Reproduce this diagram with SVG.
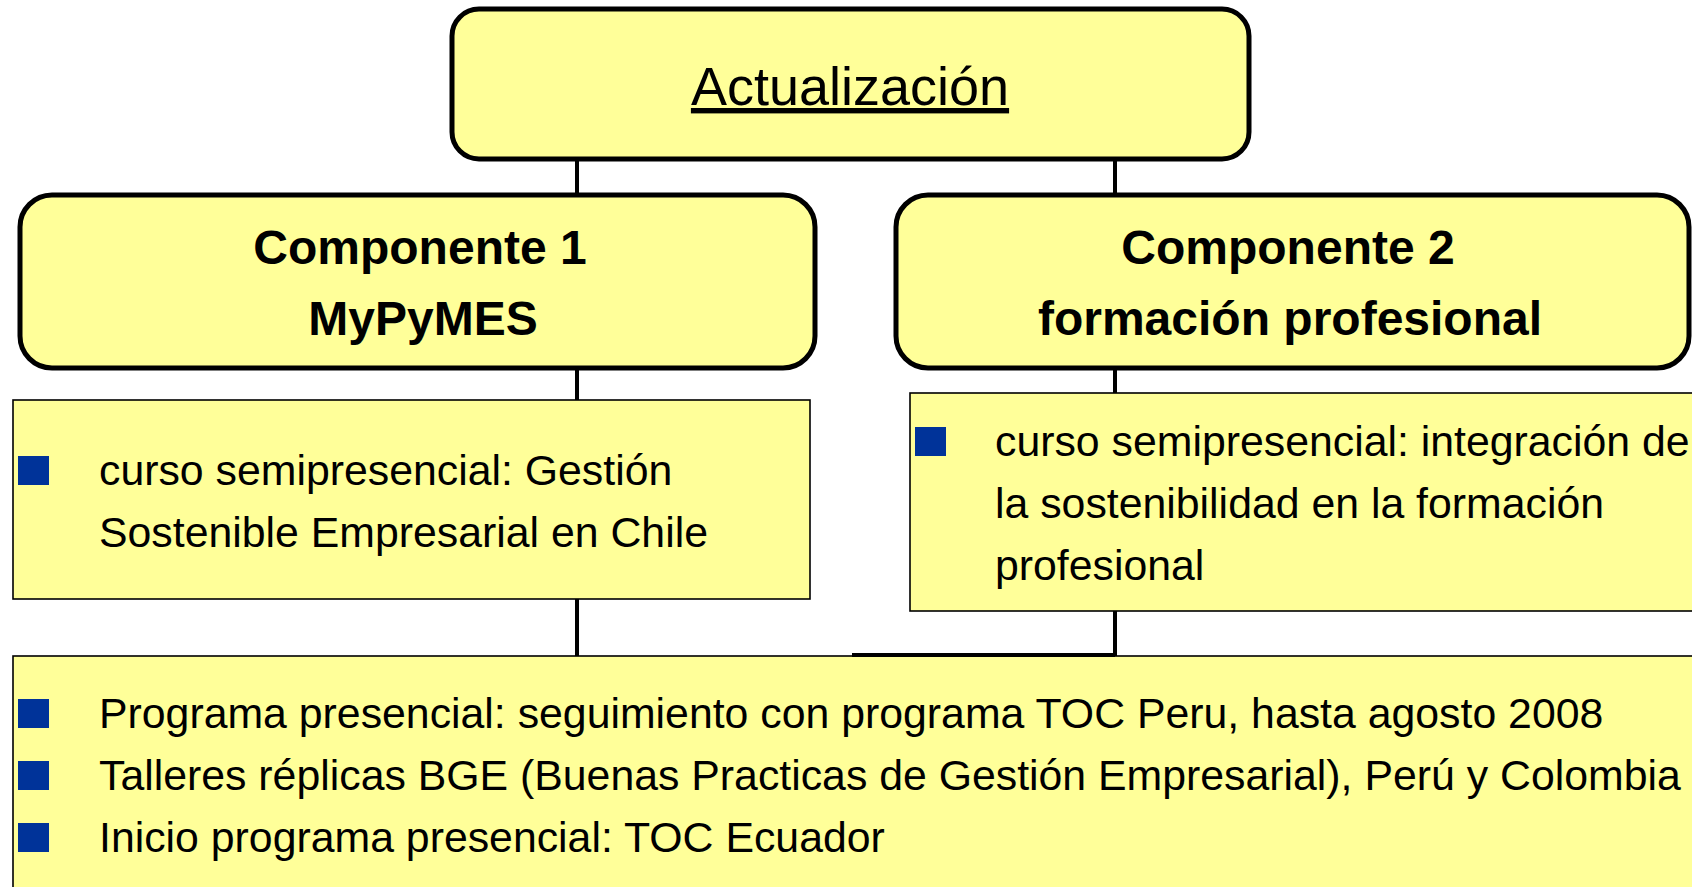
<svg xmlns="http://www.w3.org/2000/svg" width="1692" height="887" viewBox="0 0 1692 887">
<style>
.main{fill:#FFFF99;stroke:#000;stroke-width:5}
.sub{fill:#FFFF99;stroke:#000;stroke-width:1.6}
.conn{stroke:#000;stroke-width:4;fill:none}
.t{font-family:"Liberation Sans",Arial,sans-serif;fill:#000}
.h{font-size:48px;font-weight:bold;text-anchor:middle}
.b{font-size:42.8px}
.bul{fill:#003399}
</style>
<rect width="1692" height="887" fill="#fff"/>
<g id="connectors">
<line class="conn" x1="577" y1="158" x2="577" y2="196"/>
<line class="conn" x1="1115" y1="158" x2="1115" y2="196"/>
<line class="conn" x1="577" y1="367" x2="577" y2="401"/>
<line class="conn" x1="1115" y1="367" x2="1115" y2="394"/>
<line class="conn" x1="577" y1="599" x2="577" y2="656"/>
<line class="conn" x1="1115" y1="611" x2="1115" y2="656"/>
</g>
<g id="actualizacion">
<rect class="main" x="452" y="9" width="797" height="150" rx="27"/>
<text class="t" x="850" y="105" font-size="54" text-anchor="middle" text-decoration="underline">Actualización</text>
</g>
<g id="componente1">
<rect class="main" x="20" y="195" width="795" height="173" rx="32"/>
<text class="t h" x="420" y="264">Componente 1</text>
<text class="t h" x="423" y="335">MyPyMES</text>
</g>
<g id="componente2">
<rect class="main" x="896" y="195" width="793" height="173" rx="32"/>
<text class="t h" x="1288" y="264">Componente 2</text>
<text class="t h" x="1290" y="335">formación profesional</text>
</g>
<g id="curso1">
<rect class="sub" x="13" y="400" width="797" height="199"/>
<rect class="bul" x="18" y="456" width="31" height="29"/>
<text class="t b" x="99" y="485">curso semipresencial: Gestión</text>
<text class="t b" x="99" y="547">Sostenible Empresarial en Chile</text>
</g>
<g id="curso2">
<rect class="sub" x="910" y="393" width="790" height="218"/>
<rect class="bul" x="915" y="427" width="31" height="29"/>
<text class="t b" x="995" y="456">curso semipresencial: integración de</text>
<text class="t b" x="995" y="518">la sostenibilidad en la formación</text>
<text class="t b" x="995" y="580">profesional</text>
</g>
<g id="programas">
<rect class="sub" x="13" y="656" width="1690" height="250"/>
<line class="conn" x1="852" y1="655" x2="1115" y2="655"/>
<rect class="bul" x="18" y="699" width="31" height="29"/>
<text class="t b" x="99" y="728">Programa presencial: seguimiento con programa TOC Peru, hasta agosto 2008</text>
<rect class="bul" x="18" y="761" width="31" height="29"/>
<text class="t b" x="99" y="790">Talleres réplicas BGE (Buenas Practicas de Gestión Empresarial), Perú y Colombia</text>
<rect class="bul" x="18" y="823" width="31" height="29"/>
<text class="t b" x="99" y="852">Inicio programa presencial: TOC Ecuador</text>
</g>
</svg>
